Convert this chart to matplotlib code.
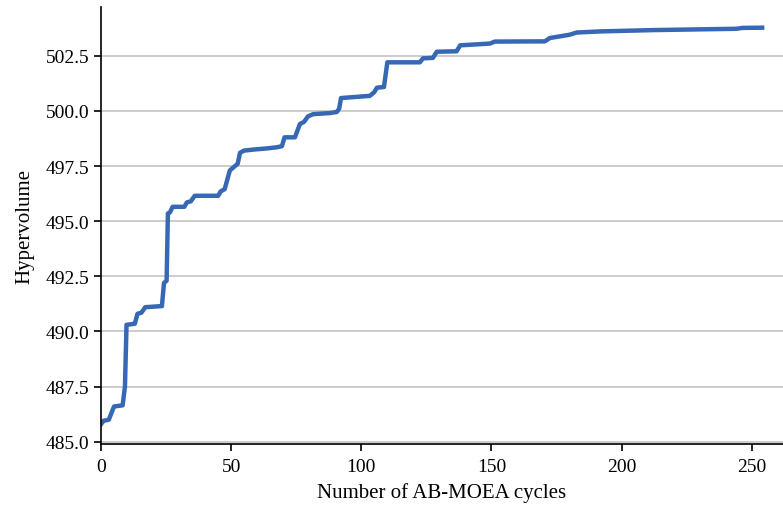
import matplotlib
matplotlib.use("Agg")
import matplotlib.pyplot as plt

plt.rcParams['font.family'] = ['Liberation Serif', 'DejaVu Serif']

# hypervolume, per AB-MOEA cycle (breakpoints)
cycles = [0, 1, 3, 5, 8.3, 9.2, 9.8, 13, 14, 15.5, 17, 23.4, 24.2, 25.2, 25.7, 26.5, 27.5,
          32, 33, 34.5, 36, 45, 46, 47.5, 49.5, 51.5, 52.5, 53.4, 55, 59, 64, 67.6, 69.5,
          70.5, 74.5, 76.4, 78, 79.5, 81.5, 88, 90.6, 91.5, 92.2, 103.3, 105, 106, 108.7,
          109.3, 110, 122.5, 123.7, 127.5, 129, 136.6, 138, 149.4, 151.3, 170.5, 172.4,
          180, 182.7, 191.6, 212, 244, 246.5, 254]
hv = [485.8, 485.95, 486.0, 486.6, 486.65, 487.5, 490.3, 490.35, 490.8, 490.85, 491.1,
      491.15, 492.2, 492.3, 495.35, 495.4, 495.65, 495.65, 495.85, 495.9, 496.15, 496.15,
      496.35, 496.45, 497.3, 497.5, 497.6, 498.1, 498.2, 498.25, 498.3, 498.35, 498.4,
      498.8, 498.8, 499.4, 499.5, 499.75, 499.85, 499.9, 499.95, 500.1, 500.58, 500.68,
      500.85, 501.05, 501.08, 501.6, 502.2, 502.2, 502.38, 502.4, 502.68, 502.7, 502.97,
      503.05, 503.14, 503.15, 503.3, 503.45, 503.55, 503.6, 503.66, 503.72, 503.76, 503.77]

fig = plt.figure(figsize=(7.83, 5.10), dpi=100)
ax = fig.add_axes([0.129, 0.1275, 0.871, 0.8565])

ax.plot(cycles, hv, color='#3768b3', linewidth=3.2, solid_joinstyle='round')

ax.set_xlim(0, 262)
ax.set_ylim(484.9, 504.7)
ax.set_xticks([0, 50, 100, 150, 200, 250])
ax.set_yticks([485.0, 487.5, 490.0, 492.5, 495.0, 497.5, 500.0, 502.5])
ax.set_yticklabels(["{:.1f}".format(v) for v in ax.get_yticks()])
ax.yaxis.grid(True, color='#c4c4c4', linewidth=1.2)
ax.set_axisbelow(True)

for s in ['top', 'right']:
    ax.spines[s].set_visible(False)
for s in ['left', 'bottom']:
    ax.spines[s].set_color('black')
    ax.spines[s].set_linewidth(1.2)
ax.tick_params(direction='out', length=5, width=1.2, labelsize=14, colors='black')
ax.tick_params(axis='x', pad=5)

ax.set_xlabel("Number of AB-MOEA cycles", fontsize=15, labelpad=5)
ax.set_ylabel("Hypervolume", fontsize=15, labelpad=8)

fig.savefig("out.png", dpi=100)
